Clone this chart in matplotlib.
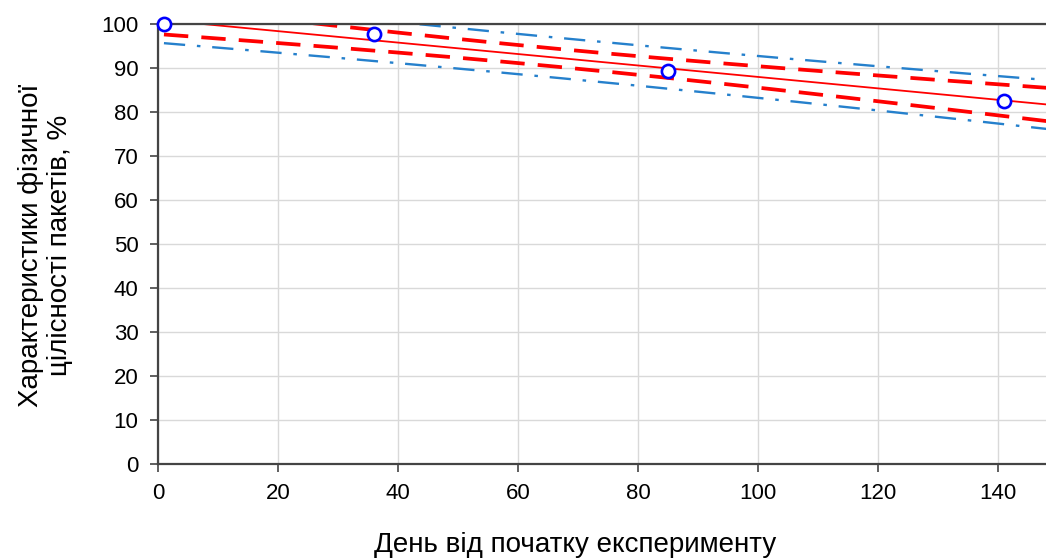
import numpy as np
import matplotlib.pyplot as plt

plt.rcParams['font.family'] = ['Liberation Sans', 'DejaVu Sans']

# observed points
days = [1, 36, 85, 141]
integrity = [100, 97.7, 89.4, 82.6]

x = np.array(days, dtype=float)
y = np.array(integrity, dtype=float)
n = len(x)

# linear fit with confidence and prediction bands
b, a = np.polyfit(x, y, 1)
resid = y - (a + b * x)
s = np.sqrt(np.sum(resid ** 2) / (n - 2))
t = 3.35
sxx = np.sum((x - x.mean()) ** 2)

xx = np.linspace(1, 150, 300)
yy = a + b * xx
ci = t * s * np.sqrt(1 / n + (xx - x.mean()) ** 2 / sxx)
pi = t * s * np.sqrt(1 + 1 / n + (xx - x.mean()) ** 2 / sxx)

fig = plt.figure(figsize=(10.46, 5.58), dpi=100)
ax = fig.add_axes([0.151, 0.1685, 0.849, 0.7885])

ax.grid(True, color='#d9d9d9', linewidth=1)
ax.set_axisbelow(True)

blue = '#2580cc'
ax.plot(xx, yy + pi, color=blue, lw=1.7, dashes=(9, 5, 1.5, 5))
ax.plot(xx, yy - pi, color=blue, lw=1.7, dashes=(9, 5, 1.5, 5))
ax.plot(xx, yy + ci, color='red', lw=2.7, dashes=(6.5, 3.5))
ax.plot(xx, yy - ci, color='red', lw=2.7, dashes=(6.5, 3.5))
ax.plot(xx, yy, color='red', lw=1.3)
ax.plot(x, y, 'o', mfc='white', mec='blue', ms=9.5, mew=1.9, clip_on=False, zorder=5)

ax.set_xlim(0, 148)
ax.set_ylim(0, 100)
ax.set_xticks(range(0, 141, 20))
ax.set_yticks(range(0, 101, 10))

for side in ['left', 'bottom', 'top']:
    ax.spines[side].set_color('#444444')
    ax.spines[side].set_linewidth(1.6)
ax.spines['right'].set_visible(False)
ax.tick_params(axis='both', labelsize=16, length=6, width=1.2, color='#444444', pad=8)

fig.text(575 / 1046, 1 - 545 / 558, 'День від початку експерименту',
         fontsize=20, ha='center', va='center')
fig.text(46 / 1046, 1 - 245 / 558, 'Характеристики фізичної\nцілісності пакетів, %',
         fontsize=20, ha='center', va='center', rotation=90, linespacing=1.15)

fig.savefig('out.png', dpi=100)
